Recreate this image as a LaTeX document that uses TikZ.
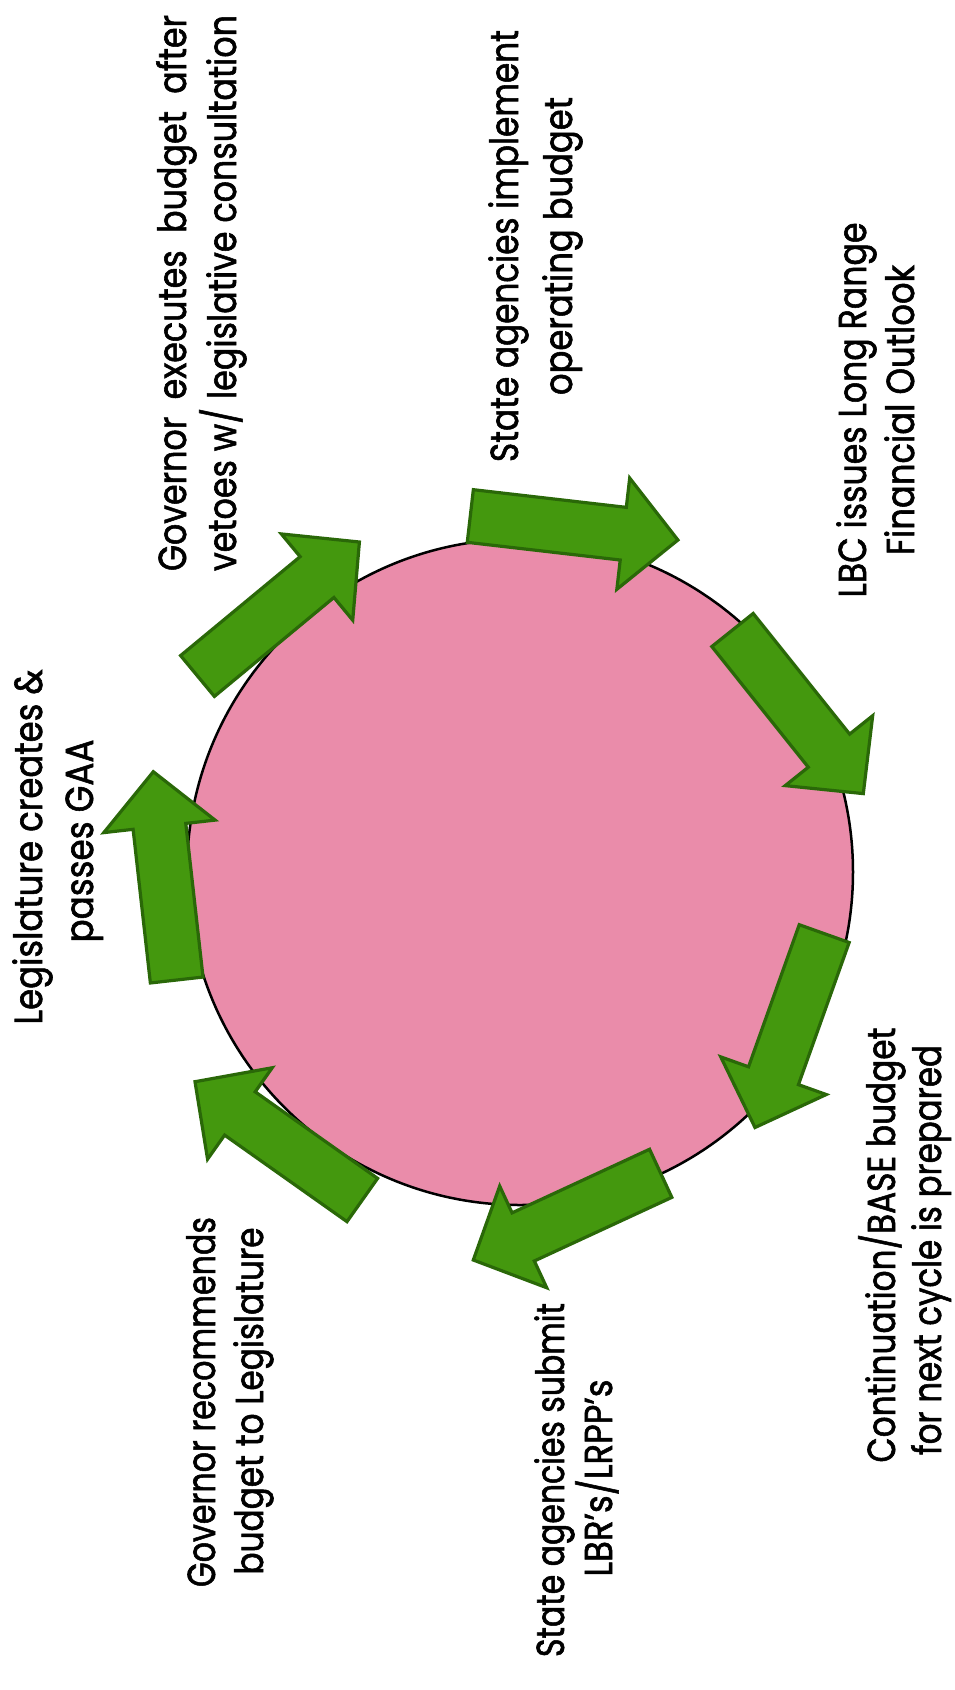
\documentclass[tikz,border=0pt]{standalone}
\usepackage{fontspec}
\setmainfont{Poppins}[FakeBold=1.6]
\usepackage{calc}
\usepackage{graphicx}
\usetikzlibrary{calc}
\definecolor{circpink}{RGB}{234,140,170}
\definecolor{arrgreen}{RGB}{68,152,14}
\definecolor{arrdark}{RGB}{42,104,8}
\tikzset{
  lbl/.style={rotate=90, anchor=base, inner sep=0pt, font=\fontsize{39}{47}\selectfont, text=black},
  blockarrowstyle/.style={fill=arrgreen, draw=arrdark, line width=3.2pt, line join=miter},
  disc/.style={circle, draw=black, line width=2.5pt, fill=circpink, minimum size=666pt, inner sep=0pt}
}
\newcommand{\fitline}[2]{\resizebox{#1pt}{\height}{#2}}
\newcommand{\blockarrow}[2]{%
  \coordinate (#2-neck) at ($(#2)!55pt!(#1)$);
  \draw[blockarrowstyle] ($(#1)!26.5pt!90:(#2)$) -- ($(#2-neck)!26.5pt!90:(#2)$) -- ($(#2-neck)!56pt!90:(#2)$) -- (#2) -- ($(#2-neck)!56pt!-90:(#2)$) -- ($(#2-neck)!26.5pt!-90:(#2)$) -- ($(#1)!26.5pt!-90:(#2)$) -- cycle;}
\begin{document}
\begin{tikzpicture}[x=1pt,y=-1pt]
\useasboundingbox[fill=white] (0,0) rectangle (955,1690);
\node[disc] (c) at (520,872) {};
% arrows: tail -> tip
\coordinate (a1t) at (197.5,676); \coordinate (a1h) at (359.4,542);
\coordinate (a2t) at (470.3,516); \coordinate (a2h) at (677.9,540);
\coordinate (a3t) at (732.5,630); \coordinate (a3h) at (863.3,793.6);
\coordinate (a4t) at (824.2,933.6); \coordinate (a4h) at (755,1127.5);
\coordinate (a5t) at (660.7,1173.3); \coordinate (a5h) at (473.3,1260);
\coordinate (a6t) at (362.3,1200); \coordinate (a6h) at (195,1081.7);
\coordinate (a7t) at (176.7,980); \coordinate (a7h) at (153.3,771.7);
\blockarrow{a1t}{a1h}
\blockarrow{a2t}{a2h}
\blockarrow{a3t}{a3h}
\blockarrow{a4t}{a4h}
\blockarrow{a5t}{a5h}
\blockarrow{a6t}{a6h}
\blockarrow{a7t}{a7h}
% labels
\node[lbl] (t1a) at (186,293) {\fitline{556}{\makebox[\widthof{vetoes w/ legislative consultation}][s]{Governor executes budget after}}};
\node[lbl] (t1b) at (236,293) {\fitline{556}{vetoes w/ legislative consultation}};
\node[lbl] (t2a) at (518,246) {\fitline{432}{State agencies implement}};
\node[lbl] (t2b) at (572,246) {\fitline{298}{operating budget}};
\node[lbl] (t3a) at (866,410) {\fitline{375}{LBC issues Long Range}};
\node[lbl] (t3b) at (914,410) {\fitline{290}{Financial Outlook}};
\node[lbl] (t4a) at (895,1245) {\fitline{435}{Continuation/BASE budget}};
\node[lbl] (t4b) at (941,1250) {\fitline{410}{for next cycle is prepared}};
\node[lbl] (t5a) at (564,1480) {\fitline{354}{State agencies submit}};
\node[lbl] (t5b) at (612,1478) {\fitline{197}{LBR’s/LRPP’s}};
\node[lbl] (t6a) at (215,1402) {\fitline{370}{Governor recommends}};
\node[lbl] (t6b) at (263,1401) {\fitline{347}{budget to Legislature}};
\node[lbl] (t7a) at (42,847) {\fitline{355}{Legislature creates \&}};
\node[lbl] (t7b) at (93,841) {\fitline{203}{passes GAA}};
\end{tikzpicture}
\end{document}
